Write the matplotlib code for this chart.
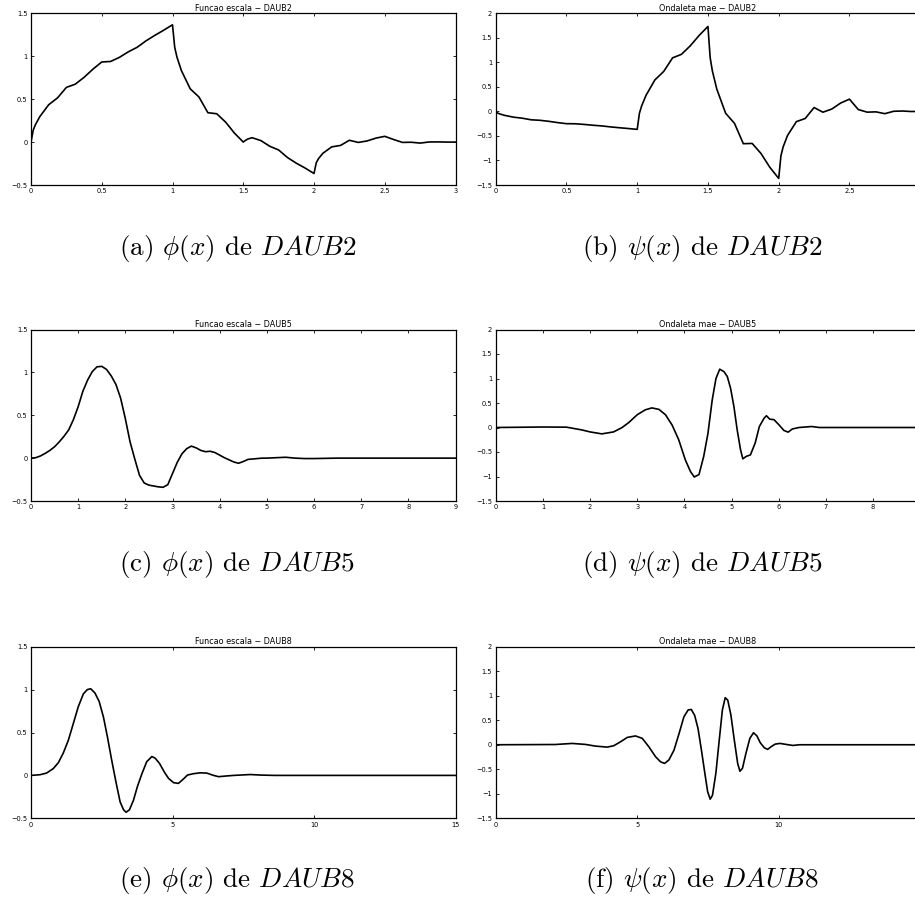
import matplotlib.pyplot as plt

plt.rcParams['mathtext.fontset'] = 'cm'
plt.rcParams['font.family'] = 'DejaVu Sans'

# ---------------- DAUB2 (amostras diadicas) ----------------
x_d2 = [0, 0.015625, 0.03125, 0.0625, 0.125, 0.1875, 0.25, 0.3125, 0.375, 0.4375,
        0.5, 0.5625, 0.625, 0.6875, 0.75, 0.8125, 0.875, 0.9375,
        1.0, 1.015625, 1.03125, 1.0625, 1.125, 1.1875, 1.25, 1.3125, 1.375, 1.4375,
        1.5, 1.515625, 1.53125, 1.5625, 1.625, 1.6875, 1.75, 1.8125, 1.875, 1.9375,
        2.0, 2.015625, 2.03125, 2.0625, 2.125, 2.1875, 2.25, 2.3125, 2.375, 2.4375,
        2.5, 2.5625, 2.625, 2.6875, 2.75, 2.8125, 2.875, 2.9375, 3.0]
phi_d2 = [0, 0.139, 0.203, 0.297, 0.435, 0.515, 0.637, 0.674, 0.754, 0.849,
          0.933, 0.939, 0.987, 1.051, 1.104, 1.179, 1.243, 1.303,
          1.366, 1.104, 0.991, 0.834, 0.621, 0.524, 0.342, 0.330, 0.233, 0.105,
          0.0, 0.020, 0.035, 0.051, 0.017, -0.049, -0.092, -0.180, -0.246, -0.303,
          -0.366, -0.243, -0.194, -0.131, -0.056, -0.039, 0.021, -0.004, 0.013, 0.046,
          0.067, 0.030, -0.004, -0.002, -0.012, 0.001, 0.002, 0.0, 0]
psi_d2 = [0, -0.037, -0.054, -0.080, -0.117, -0.138, -0.171, -0.181, -0.202, -0.228,
          -0.250, -0.252, -0.265, -0.282, -0.296, -0.316, -0.333, -0.349,
          -0.366, -0.038, 0.111, 0.329, 0.642, 0.815, 1.092, 1.163, 1.337, 1.548,
          1.732, 1.096, 0.825, 0.455, -0.038, -0.243, -0.658, -0.653, -0.858, -1.140,
          -1.366, -0.907, -0.725, -0.490, -0.208, -0.144, 0.079, -0.016, 0.048, 0.170,
          0.250, 0.038, -0.015, -0.009, -0.046, 0.003, 0.008, -0.002, 0]

# ---------------- DAUB5 ----------------
x_phi5 = [0.0, 0.1, 0.2, 0.3, 0.4, 0.5, 0.6, 0.7, 0.8, 0.9,
          1.0, 1.1, 1.2, 1.3, 1.4, 1.5, 1.6, 1.7, 1.8, 1.9,
          2.0, 2.1, 2.2, 2.3, 2.4, 2.5, 2.6, 2.7, 2.8, 2.9,
          3.0, 3.1, 3.2, 3.3, 3.4, 3.5, 3.6, 3.7, 3.8, 3.9,
          4.0, 4.1, 4.2, 4.3, 4.4, 4.5, 4.6, 4.7, 4.8, 4.9,
          5.0, 5.2, 5.4, 5.6, 5.8, 6.0, 6.5, 7.0, 9.0]
phi5 = [0.0, 0.005, 0.025, 0.055, 0.09, 0.133, 0.19, 0.255, 0.33, 0.45,
        0.60, 0.78, 0.91, 1.01, 1.065, 1.07, 1.035, 0.96, 0.86, 0.70,
        0.46, 0.19, -0.01, -0.20, -0.29, -0.315, -0.325, -0.335, -0.34, -0.31,
        -0.18, -0.05, 0.05, 0.11, 0.14, 0.12, 0.09, 0.075, 0.08, 0.065,
        0.035, 0.005, -0.02, -0.045, -0.06, -0.04, -0.015, -0.01, -0.005, 0.0,
        0.0, 0.005, 0.01, 0.0, -0.005, -0.005, 0.0, 0.0, 0.0]

x_psi5 = [0, 1.0, 1.5, 1.83, 2.0, 2.25, 2.5, 2.68, 2.82, 3.0, 3.17, 3.31, 3.46, 3.60,
          3.74, 3.88, 4.02, 4.13, 4.21, 4.31, 4.41, 4.50, 4.59, 4.67, 4.75, 4.84, 4.91,
          4.98, 5.05, 5.12, 5.19, 5.24, 5.31, 5.40, 5.50, 5.59, 5.69, 5.74, 5.81, 5.90,
          6.01, 6.11, 6.20, 6.29, 6.43, 6.70, 6.86, 9.0]
psi5 = [0, 0.01, 0.007, -0.05, -0.09, -0.13, -0.09, 0.0, 0.10, 0.26, 0.36, 0.40, 0.37,
        0.26, 0.05, -0.25, -0.66, -0.90, -1.01, -0.96, -0.59, -0.12, 0.56, 1.00, 1.19,
        1.14, 1.04, 0.80, 0.43, -0.05, -0.45, -0.64, -0.59, -0.56, -0.32, 0.02, 0.19,
        0.24, 0.17, 0.16, 0.05, -0.06, -0.095, -0.03, 0.0, 0.02, 0.0, 0.0]

# ---------------- DAUB8 ----------------
x_phi8 = [0, 0.32, 0.55, 0.79, 0.97, 1.14, 1.32, 1.50, 1.67, 1.85, 1.99, 2.11, 2.26,
          2.41, 2.56, 2.70, 2.85, 3.01, 3.15, 3.27, 3.36, 3.48, 3.62, 3.76, 3.92, 4.09,
          4.27, 4.39, 4.54, 4.71, 4.86, 5.04, 5.21, 5.37, 5.53, 5.74, 5.98, 6.21, 6.45,
          6.63, 6.86, 7.16, 7.75, 8.1, 8.6, 15]
phi8 = [0, 0.008, 0.027, 0.08, 0.15, 0.26, 0.41, 0.61, 0.80, 0.95, 1.00, 1.01, 0.96,
        0.86, 0.68, 0.45, 0.18, -0.09, -0.31, -0.40, -0.43, -0.40, -0.29, -0.13, 0.02,
        0.16, 0.22, 0.20, 0.14, 0.04, -0.035, -0.085, -0.093, -0.047, 0.004, 0.02, 0.03,
        0.027, 0.0, -0.015, -0.008, 0.0, 0.01, 0.004, 0.0, 0.0]

x_psi8 = [0, 2.1, 2.7, 3.17, 3.52, 3.94, 4.17, 4.41, 4.65, 4.94, 5.18, 5.41, 5.65, 5.83,
          5.97, 6.12, 6.30, 6.48, 6.65, 6.80, 6.91, 7.03, 7.15, 7.27, 7.39, 7.49, 7.58,
          7.66, 7.78, 7.90, 8.01, 8.11, 8.20, 8.31, 8.43, 8.55, 8.63, 8.72, 8.84, 8.98,
          9.11, 9.23, 9.35, 9.49, 9.61, 9.73, 9.88, 10.05, 10.26, 10.5, 10.73, 15]
psi8 = [0, 0.005, 0.027, 0.007, -0.027, -0.048, -0.02, 0.06, 0.15, 0.18, 0.13, -0.04,
        -0.245, -0.35, -0.38, -0.31, -0.11, 0.23, 0.57, 0.71, 0.72, 0.60, 0.33, -0.11,
        -0.58, -0.96, -1.11, -1.03, -0.58, 0.10, 0.71, 0.96, 0.91, 0.61, 0.10, -0.38,
        -0.54, -0.48, -0.18, 0.13, 0.245, 0.18, 0.04, -0.06, -0.095, -0.04, 0.014, 0.027,
        0.007, -0.014, 0.0, 0.0]

titulos = ['Funcao escala − DAUB2', 'Ondaleta mae − DAUB2',
           'Funcao escala − DAUB5', 'Ondaleta mae − DAUB5',
           'Funcao escala − DAUB8', 'Ondaleta mae − DAUB8']
legendas = [r'(a) $\phi(x)$ de $DAUB2$', r'(b) $\psi(x)$ de $DAUB2$',
            r'(c) $\phi(x)$ de $DAUB5$', r'(d) $\psi(x)$ de $DAUB5$',
            r'(e) $\phi(x)$ de $DAUB8$', r'(f) $\psi(x)$ de $DAUB8$']

curvas = [(x_d2, phi_d2), (x_d2, psi_d2), (x_phi5, phi5), (x_psi5, psi5),
          (x_phi8, phi8), (x_psi8, psi8)]
xlims = [3, 3, 9, 9, 15, 15]
xticks = [[0, 0.5, 1, 1.5, 2, 2.5, 3], [0, 0.5, 1, 1.5, 2, 2.5, 3],
          list(range(10)), list(range(10)), [0, 5, 10, 15], [0, 5, 10, 15]]

W, H = 915, 901
fig = plt.figure(figsize=(W / 100, H / 100), dpi=100)

# posicoes em pixels: esquerda, topo, base, centro vertical da legenda
esq = [31, 495.7]
linhas = [(13.3, 185, 248), (329.5, 501, 564), (646.7, 818.3, 880)]
largura = 424.5

for i in range(6):
    col, lin = i % 2, i // 2
    topo, base, ylab = linhas[lin]
    ax = fig.add_axes([esq[col] / W, 1 - base / H, largura / W, (base - topo) / H])
    x, y = curvas[i]
    ax.plot(x, y, color='black', lw=1.2)
    ax.set_xlim(0, xlims[i])
    if col == 0:
        ax.set_ylim(-0.5, 1.5)
        ax.set_yticks([-0.5, 0, 0.5, 1, 1.5])
        ax.set_yticklabels(['−0.5', '0', '0.5', '1', '1.5'])
    else:
        ax.set_ylim(-1.5, 2)
        ax.set_yticks([-1.5, -1, -0.5, 0, 0.5, 1, 1.5, 2])
        ax.set_yticklabels(['−1.5', '−1', '−0.5', '0', '0.5', '1', '1.5', '2'])
    ax.set_xticks(xticks[i])
    rotulos = [f'{t:g}' for t in xticks[i]]
    if col == 1:
        rotulos[-1] = ''  # o ultimo rotulo fica fora da folha
    ax.set_xticklabels(rotulos)
    ax.tick_params(direction='in', length=2.2, width=0.6, labelsize=4.8,
                   top=True, right=True, pad=2.5)
    for s in ax.spines.values():
        s.set_linewidth(0.9)
    ax.set_title(titulos[i], fontsize=5.8, pad=2)

    cx = (esq[col] + largura / 2 - 6) / W
    cy = 1 - ylab / H
    fig.text(cx, cy, legendas[i], ha='center', va='center', fontsize=19.5,
             family='cmr10')

fig.savefig('out.png', dpi=100)
